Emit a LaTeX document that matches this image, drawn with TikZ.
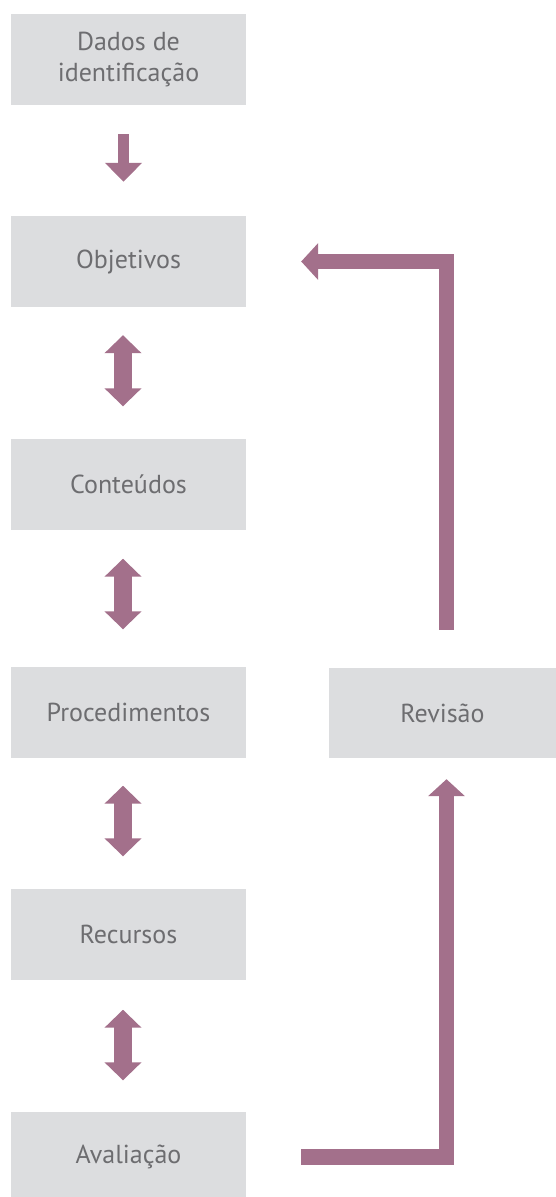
\documentclass[tikz,border=0pt]{standalone}
\usepackage{fontspec}
\setmainfont{PT Sans}
\usetikzlibrary{arrows.meta}
\definecolor{boxfill}{HTML}{DCDDDF}
\definecolor{boxtext}{HTML}{6D6D70}
\definecolor{arrowc}{HTML}{A3708B}
\begin{document}
\begin{tikzpicture}[x=1pt,y=-1pt,
  stepbox/.style={fill=boxfill, text=boxtext, minimum width=235pt, minimum height=91pt,
    inner sep=0pt, align=center, font=\fontsize{26}{31}\selectfont},
  revbox/.style={stepbox, minimum width=227pt, minimum height=90pt},
  downarr/.style={draw=arrowc, line width=11pt, -{Triangle[width=36pt,length=19pt]}},
  duoarr/.style={draw=arrowc, line width=18pt, {Triangle[width=36pt,length=18pt]}-{Triangle[width=36pt,length=18pt]}},
  loopup/.style={draw=arrowc, line width=15.5pt, line join=miter, -{Triangle[width=36pt,length=17pt]}},
]
\useasboundingbox (0,0) rectangle (556,1197);
\node[stepbox] (dad) at (128.5,59.5) {Dados de\\identificação};
\node[stepbox] (obj) at (128.5,261.5) {Objetivos};
\node[stepbox] (con) at (128.5,484) {Conteúdos};
\node[stepbox] (pro) at (128.5,712) {Procedimentos};
\node[stepbox] (rec) at (128.5,934) {Recursos};
\node[stepbox] (ava) at (128.5,1157) {Avaliação};
\node[revbox] (rev) at (442.5,713) {Revisão};

\draw[downarr] ([xshift=-5pt,yshift=-29pt]dad.south) -- ([xshift=-5pt,yshift=34pt]obj.north);
\draw[duoarr] ([xshift=-5.5pt,yshift=-28pt]obj.south) -- ([xshift=-5.5pt,yshift=32pt]con.north);
\draw[duoarr] ([xshift=-5.5pt,yshift=-29pt]con.south) -- ([xshift=-5.5pt,yshift=37pt]pro.north);
\draw[duoarr] ([xshift=-5.5pt,yshift=-28pt]pro.south) -- ([xshift=-5.5pt,yshift=32pt]rec.north);
\draw[duoarr] ([xshift=-5.5pt,yshift=-30pt]rec.south) -- ([xshift=-5.5pt,yshift=31pt]ava.north);

\coordinate (rtop) at ([xshift=4pt,yshift=38pt]rev.north);
\coordinate (rbot) at ([xshift=4pt,yshift=-21pt]rev.south);
\draw[loopup] (rtop) |- ([xshift=55pt]obj.east);
\draw[loopup] ([xshift=55pt]ava.east) -| (rbot);
\end{tikzpicture}
\end{document}
